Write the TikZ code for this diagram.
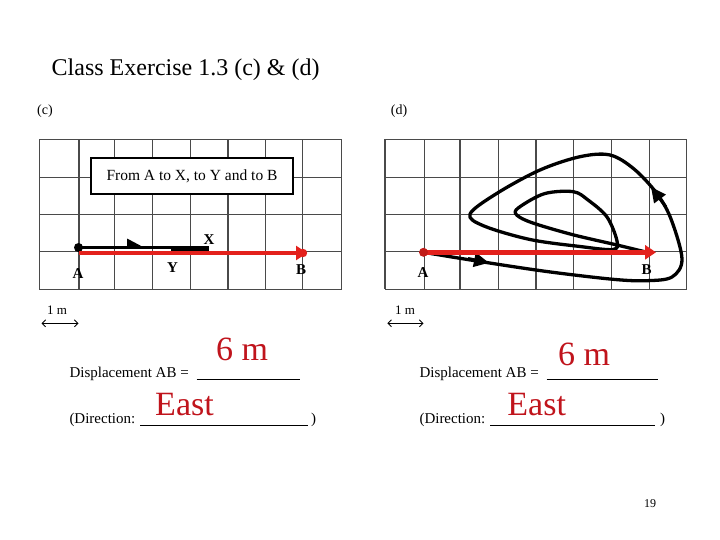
\documentclass[tikz,border=0pt]{standalone}
\usepackage{fontspec}
\setmainfont{Liberation Serif}
\usetikzlibrary{arrows.meta}
\definecolor{gridc}{HTML}{4A4A4A}
\definecolor{redl}{HTML}{E3211C}
\definecolor{ansred}{HTML}{C0141C}
\tikzset{
  gridline/.style={draw=gridc, line width=1.1pt},
  redvec/.style={draw=redl, line width=4.8pt, -{Triangle[length=11pt,width=14pt]}},
  blackpath/.style={draw=black, line width=3.3pt, line cap=round, line join=round},
  lbl/.style={font=\fontsize{15}{17}\selectfont\bfseries, inner sep=0pt},
  txt/.style={font=\fontsize{15}{17}\selectfont, inner sep=0pt, anchor=base west},
  ans/.style={font=\fontsize{34}{36}\selectfont, text=ansred, inner sep=0pt, anchor=base},
  blank/.style={draw=black, line width=1.1pt},
  scalearrow/.style={draw=black, line width=0.9pt, {Straight Barb[length=3.5pt]}-{Straight Barb[length=3.5pt]}},
  tipmark/.style={draw=black, line width=3pt, -{Triangle[length=15pt,width=14pt]}}
}
\begin{document}
\begin{tikzpicture}[x=1pt,y=-1pt]
\path[use as bounding box] (0,0) rectangle (720,540);

% title
\node[font=\fontsize{24}{28}\selectfont, inner sep=0pt, anchor=base west] (title) at (51.5,76) {Class Exercise 1.3 (c) \& (d)};
\node[font=\fontsize{14}{16}\selectfont, inner sep=0pt] (lc) at (45,111) {(c)};
\node[font=\fontsize{14}{16}\selectfont, inner sep=0pt] (ld) at (399,111) {(d)};

% ---------- grid (c)
\foreach \x in {39.3,79,114.3,152.7,190.7,228,265.3,302.7,341.7}
  \draw[gridline] (\x,139.3) -- (\x,289.3);
\foreach \y in {139.3,177.3,214.3,251.3,289.3}
  \draw[gridline] (39.3,\y) -- (341.7,\y);

\node[draw=black, line width=1.1pt, fill=white, minimum width=202pt, minimum height=36pt, inner sep=0pt,
      font=\fontsize{15.5}{17}\selectfont] (box) at (192,176) {From A to X, to Y and to B};

\coordinate (cA) at (78.5,247.5);
\coordinate (cX) at (209,247.5);
\coordinate (cX2) at (209,250);
\coordinate (cY) at (171,250);
\coordinate (cR) at (78.5,253);
\coordinate (cB) at (303,253);

\draw[blackpath, line cap=butt] (cA) -- (cX);
\draw[blackpath, line cap=butt] (cX2) -- (cY);
\fill (127,238.5) -- (144,247.5) -- (127,248) -- cycle;
\fill (cA) circle (4.5pt);
\draw[redvec] (cR) -- ([xshift=4pt]cB);
\fill[redl] (cB) circle (4.2pt);

\node[lbl] (nX) at (209,240) {X};
\node[lbl] (nY) at (172.5,268) {Y};
\node[lbl] (nA) at (78,273.5) {A};
\node[lbl] (nB) at (301,270) {B};

% ---------- grid (d)
\foreach \x in {385,424.3,460,498.3,536,573.3,611.7,649.3,686.7}
  \draw[gridline] (\x,139.3) -- (\x,289.3);
\foreach \y in {139.3,177.3,214.3,251.3,289.3}
  \draw[gridline] (385,\y) -- (686.7,\y);

\coordinate (dA) at (423.5,252.3);
\coordinate (dB) at (647,252.3);

\draw[blackpath] plot[smooth, tension=0.55] coordinates {
  (dA) (480,261.5) (546.7,271.5) (613,279.3) (646.7,280.7) (672,277) (682,259)
  (671,219) (656.7,193.3) (634,169) (610,155) (580,156.7) (540,170)
  (497,193.3) (470,214) (484,226) (530,239.5) (580,246.5) (613,249.5)
  (617,241) (607,217) (588,200) (573.3,191.7) (545,193.5) (521,206) (515.5,213.5)
  (530,222) (572,234.5) (617,245) (dB)};

\draw[tipmark] (468,258.5) -- (489,262.8);
\draw[tipmark] (666,207) -- (651,187);

\draw[redvec] (dA) -- ([xshift=9pt]dB);
\fill[redl!85!black] (dA) circle (4.5pt);

\node[lbl] (dnA) at (423,273) {A};
\node[lbl] (dnB) at (646.5,270) {B};

% ---------- scales
\node[font=\fontsize{13}{15}\selectfont, inner sep=0pt] (m1) at (57,310) {1 m};
\coordinate (s1a) at (41.5,323.3);
\coordinate (s1b) at (78.5,323.3);
\draw[scalearrow] (s1a) -- (s1b);
\node[font=\fontsize{13}{15}\selectfont, inner sep=0pt] (m2) at (405,310) {1 m};
\coordinate (s2a) at (387.3,323.3);
\coordinate (s2b) at (423.5,323.3);
\draw[scalearrow] (s2a) -- (s2b);

% ---------- answers left
\node[txt] (dispL) at (69.3,377.5) {Displacement AB =};
\coordinate (u1a) at (196.7,379.5);
\coordinate (u1b) at (300,379.5);
\draw[blank] (u1a) -- (u1b);
\node[txt] (dirL) at (69.3,423.5) {(Direction:};
\coordinate (u2a) at (140,425.5);
\coordinate (u2b) at (308,425.5);
\draw[blank] (u2a) -- (u2b);
\node[txt] (parL) at (311,423.5) {)};
\node[ans] (sixL) at (242,360) {6 m};
\node[ans] (eastL) at (184.5,415.3) {East};

% ---------- answers right
\node[txt] (dispR) at (419.3,377.5) {Displacement AB =};
\coordinate (u3a) at (546.7,379.5);
\coordinate (u3b) at (658.3,379.5);
\draw[blank] (u3a) -- (u3b);
\node[txt] (dirR) at (419.3,423.5) {(Direction:};
\coordinate (u4a) at (490,425.5);
\coordinate (u4b) at (655,425.5);
\draw[blank] (u4a) -- (u4b);
\node[txt] (parR) at (660,423.5) {)};
\node[ans] (sixR) at (584,365) {6 m};
\node[ans] (eastR) at (536.7,415) {East};

\node[font=\fontsize{12}{14}\selectfont, inner sep=0pt] (pg) at (650,504) {19};
\end{tikzpicture}
\end{document}
